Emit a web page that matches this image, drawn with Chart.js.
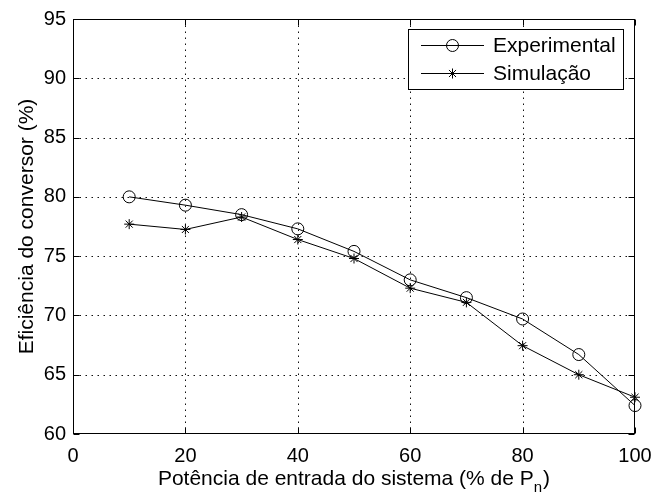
<!DOCTYPE html>
<html lang="pt">
<head>
<meta charset="UTF-8">
<title>Eficiência do conversor</title>
<script src="https://cdn.jsdelivr.net/npm/chart.js"></script>
<style>
  html, body { margin: 0; padding: 0; background: #fff; }
</style>
</head>
<body>
<canvas id="effChart" width="654" height="495"></canvas>
<script>
// potência de entrada (% de Pn) e eficiência medida / simulada (%)
const potencia = [10, 20, 30, 40, 50, 60, 70, 80, 90, 100];
const experimental = [80.0, 79.3, 78.5, 77.3, 75.4, 73.0, 71.5, 69.7, 66.7, 62.4];
const simulacao = [77.7, 77.25, 78.3, 76.4, 74.8, 72.3, 71.1, 67.45, 65.0, 63.1];
const xTicks = [0, 20, 40, 60, 80, 100];
const yTicks = [60, 65, 70, 75, 80, 85, 90, 95];
const seriesNames = ['Experimental', 'Simulação'];

const FONT = "'Liberation Sans', Arial, Helvetica, sans-serif";

function toPoints(xs, ys) {
    return xs.map((x, i) => ({ x: x, y: ys[i] }));
}

function drawMarker(ctx, style, x, y, r) {
    ctx.beginPath();
    if (style === 'circle') {
        ctx.arc(x, y, r, 0, Math.PI * 2);
    } else {
        for (let k = 0; k < 4; k++) {
            const a = k * Math.PI / 4;
            const dx = Math.cos(a) * r, dy = Math.sin(a) * r;
            ctx.moveTo(x - dx, y - dy);
            ctx.lineTo(x + dx, y + dy);
        }
    }
    ctx.stroke();
}

function areaEdges(a) {
    return {
        L: Math.round(a.left) + 0.5, R: Math.round(a.right) - 0.5,
        T: Math.round(a.top) + 0.5, B: Math.round(a.bottom) - 0.5
    };
}

// grade pontilhada por baixo das curvas
const dottedGrid = {
    id: 'dottedGrid',
    beforeDatasetsDraw(chart) {
        const { ctx, chartArea, scales } = chart;
        const { L, R, T, B } = areaEdges(chartArea);
        ctx.save();
        ctx.strokeStyle = '#111';
        ctx.lineWidth = 1;
        ctx.setLineDash([1.5, 4.5]);
        ctx.beginPath();
        xTicks.slice(1, -1).forEach(v => {
            const px = Math.round(scales.x.getPixelForValue(v)) + 0.5;
            ctx.moveTo(px, T); ctx.lineTo(px, B);
        });
        yTicks.slice(1, -1).forEach(v => {
            const py = Math.round(scales.y.getPixelForValue(v)) + 0.5;
            ctx.moveTo(L, py); ctx.lineTo(R, py);
        });
        ctx.stroke();
        ctx.restore();
    }
};

// caixa dos eixos, marcas internas, legenda e títulos
const axesBox = {
    id: 'axesBox',
    afterDatasetsDraw(chart) {
        const { ctx, chartArea: a, scales } = chart;
        const { L, R, T, B } = areaEdges(a);
        ctx.save();
        ctx.strokeStyle = '#000';
        ctx.lineWidth = 1;
        ctx.setLineDash([]);
        ctx.strokeRect(L, T, R - L, B - T);

        const tl = 6;
        ctx.beginPath();
        xTicks.forEach(v => {
            const px = Math.round(scales.x.getPixelForValue(v)) + 0.5;
            ctx.moveTo(px, B); ctx.lineTo(px, B - tl);
            ctx.moveTo(px, T); ctx.lineTo(px, T + tl);
        });
        yTicks.forEach(v => {
            const py = Math.round(scales.y.getPixelForValue(v)) + 0.5;
            ctx.moveTo(L, py); ctx.lineTo(L + tl, py);
            ctx.moveTo(R, py); ctx.lineTo(R - tl, py);
        });
        ctx.stroke();

        // legenda
        const lx = 408.5, ly = 29.5, lw = 215, lh = 60;
        ctx.fillStyle = '#fff';
        ctx.fillRect(lx, ly, lw, lh);
        ctx.strokeRect(lx, ly, lw, lh);
        const styles = ['circle', 'star'];
        const radii = [6, 5];
        seriesNames.forEach((name, i) => {
            const y = 45.5 + i * 28;
            ctx.beginPath();
            ctx.moveTo(421, y); ctx.lineTo(484, y);
            ctx.stroke();
            drawMarker(ctx, styles[i], 452.5, y, radii[i]);
            ctx.fillStyle = '#000';
            ctx.font = '21px ' + FONT;
            ctx.textBaseline = 'middle';
            ctx.textAlign = 'left';
            ctx.fillText(name, 493, y + 1);
        });

        // título do eixo x com subscrito
        ctx.font = '21px ' + FONT;
        ctx.textBaseline = 'alphabetic';
        const main = 'Potência de entrada do sistema (% de P';
        const sub = 'n';
        const close = ')';
        const wMain = ctx.measureText(main).width;
        const wClose = ctx.measureText(close).width;
        ctx.font = '15px ' + FONT;
        const wSub = ctx.measureText(sub).width;
        const total = wMain + wSub + wClose + 1;
        const x0 = (a.left + a.right) / 2 - total / 2;
        const base = 485;
        ctx.font = '21px ' + FONT;
        ctx.fillText(main, x0, base);
        ctx.font = '15px ' + FONT;
        ctx.fillText(sub, x0 + wMain, base + 7);
        ctx.font = '21px ' + FONT;
        ctx.fillText(close, x0 + wMain + wSub + 1, base);

        // título do eixo y
        ctx.translate(27, (a.top + a.bottom) / 2);
        ctx.rotate(-Math.PI / 2);
        ctx.textAlign = 'center';
        ctx.textBaseline = 'middle';
        ctx.fillText('Eficiência do conversor (%)', 0, 0);
        ctx.restore();
    }
};

const ctx = document.getElementById('effChart').getContext('2d');
new Chart(ctx, {
    type: 'line',
    data: {
        datasets: [{
            label: seriesNames[0],
            data: toPoints(potencia, experimental),
            borderColor: '#000',
            borderWidth: 1,
            backgroundColor: 'rgba(0,0,0,0)',
            pointStyle: 'circle',
            pointRadius: 6,
            pointBorderWidth: 1,
            pointBorderColor: '#000',
            pointBackgroundColor: 'rgba(0,0,0,0)',
            tension: 0,
            clip: false
        }, {
            label: seriesNames[1],
            data: toPoints(potencia, simulacao),
            borderColor: '#000',
            borderWidth: 1,
            backgroundColor: 'rgba(0,0,0,0)',
            pointStyle: 'star',
            pointRadius: 5,
            pointBorderWidth: 1,
            pointBorderColor: '#000',
            tension: 0,
            clip: false
        }]
    },
    options: {
        responsive: false,
        animation: false,
        events: [],
        layout: { padding: { top: 19, right: 19, left: 0, bottom: 0 } },
        plugins: { legend: { display: false }, tooltip: { enabled: false } },
        scales: {
            x: {
                type: 'linear',
                min: 0,
                max: 100,
                afterBuildTicks: s => { s.ticks = xTicks.map(v => ({ value: v })); },
                afterFit: s => { s.height = 61; s.paddingLeft = 0; s.paddingRight = 0; },
                grid: { display: false, drawTicks: false },
                border: { display: false },
                ticks: {
                    color: '#000',
                    padding: 10,
                    maxRotation: 0,
                    font: { family: FONT, size: 20 }
                }
            },
            y: {
                min: 60,
                max: 95,
                afterBuildTicks: s => { s.ticks = yTicks.map(v => ({ value: v })); },
                afterFit: s => { s.width = 73; s.paddingTop = 0; s.paddingBottom = 0; },
                grid: { display: false, drawTicks: false },
                border: { display: false },
                ticks: {
                    color: '#000',
                    padding: 7,
                    font: { family: FONT, size: 20 }
                }
            }
        }
    },
    plugins: [dottedGrid, axesBox]
});
</script>
</body>
</html>
